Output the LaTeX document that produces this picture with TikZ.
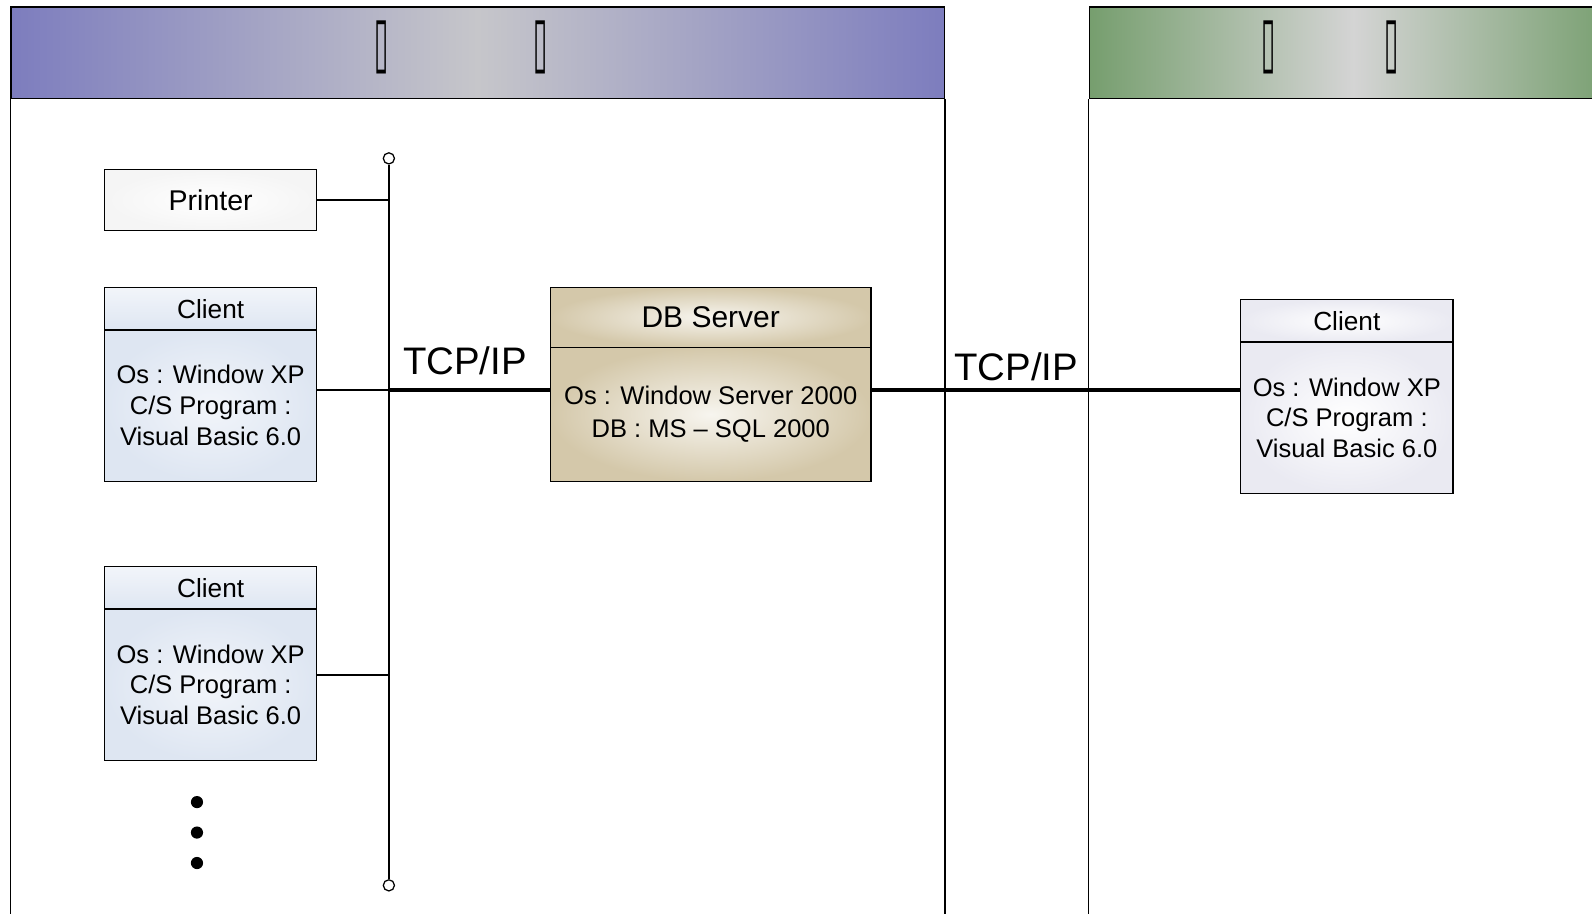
\documentclass[tikz,border=0pt]{standalone}
\usepackage{fontspec}
\setmainfont{Liberation Sans}
\newfontfamily\symfont{DejaVu Sans}
\usepackage{graphicx}
\usetikzlibrary{positioning}

\definecolor{hqedge}{RGB}{125,125,190}
\definecolor{hqmid}{RGB}{198,198,202}
\definecolor{bredge}{RGB}{118,158,110}
\definecolor{brmid}{RGB}{212,212,212}
\definecolor{cliout}{RGB}{222,230,242}
\definecolor{cliin}{RGB}{242,245,250}
\definecolor{rcout}{RGB}{234,234,242}
\definecolor{dbout}{RGB}{212,200,170}
\definecolor{dbin}{RGB}{247,245,239}

\newcommand{\tofu}{\resizebox{0.28cm}{0.88cm}{\symfont\bfseries ▯}}

\begin{document}
\begin{tikzpicture}[
    frame/.style={line width=0.8pt},
    head/.style={rectangle, draw, line width=0.8pt, inner sep=0pt, outer sep=0pt, minimum width=4.18cm, minimum height=0.84cm, font=\fontsize{14.7}{16}\selectfont},
    body/.style={rectangle, draw, line width=0.8pt, inner sep=0pt, outer sep=0pt, minimum width=4.18cm, minimum height=2.98cm, align=center, font=\fontsize{14.3}{17.3}\selectfont},
    link/.style={line width=0.8pt},
    trunk/.style={line width=2.4pt},
    tcp/.style={font=\fontsize{21.5}{24}\selectfont},
    endpt/.style={circle, draw, fill=white, line width=0.7pt, inner sep=0pt, minimum size=0.22cm}
]
\clip (0,0) rectangle (31.36,18);
\useasboundingbox (0,0) rectangle (31.36,18);

% Panels
\node[rectangle, draw, line width=0.8pt, minimum width=18.38cm, minimum height=1.8cm, left color=hqedge, right color=hqedge, middle color=hqmid] (hq) at (9.41,16.96) {};
\node[rectangle, draw, line width=0.8pt, minimum width=10.4cm, minimum height=1.8cm, left color=bredge, right color=bredge, middle color=brmid] (br) at (26.66,16.96) {};
\node (hq1) at (7.52,17.06) {\tofu};
\node (hq2) at (10.64,17.06) {\tofu};
\node (br1) at (24.98,17.06) {\tofu};
\node (br2) at (27.42,17.06) {\tofu};
\draw[frame] (hq.south west) -- ++(0,-16.2);
\draw[frame] (hq.south east) -- ++(0,-16.2);
\draw[frame] (br.south west) -- ++(0,-16.2);

% Left side
\node[rectangle, draw, line width=0.8pt, minimum width=4.18cm, minimum height=1.2cm, inner color=white, outer color=gray!8, font=\fontsize{16}{18}\selectfont] (prn) at (4.15,14.06) {Printer};

\node[head, top color=cliin, bottom color=cliout] (c1h) at (4.15,11.92) {Client};
\node[body, inner color=cliin, outer color=cliout, below=0pt of c1h] (c1) {Os : Window XP\\C/S Program :\\Visual Basic 6.0};

\node[head, top color=cliin, bottom color=cliout] (c2h) at (4.15,6.42) {Client};
\node[body, inner color=cliin, outer color=cliout, below=0pt of c2h] (c2) {Os : Window XP\\C/S Program :\\Visual Basic 6.0};

\foreach \y in {2.2,1.6,1.0}
    \fill (3.88,\y) circle (0.12);

% Bus
\node[endpt] (bustop) at (7.66,14.88) {};
\node[endpt] (busbot) at (7.66,0.56) {};
\draw[link] (bustop.south) -- (busbot.north);
\coordinate (tap1) at (7.66,10.32);
\coordinate (tap2) at (7.66,4.70);
\draw[link] (prn.east) -- (prn.east -| bustop);
\draw[link] (c1.east |- tap1) -- (tap1);
\draw[link] (c2.east |- tap2) -- (tap2);

% DB Server
\node[rectangle, draw, line width=0.8pt, inner sep=0pt, outer sep=0pt, minimum width=6.32cm, minimum height=1.18cm, inner color=dbin, outer color=dbout, font=\fontsize{16.8}{18}\selectfont] (dbh) at (14.0,11.75) {DB Server};
\node[rectangle, draw, line width=0.8pt, inner sep=0pt, outer sep=0pt, minimum width=6.32cm, minimum height=2.64cm, align=center, inner color=dbin, outer color=dbout, below=0pt of dbh, font=\fontsize{14.3}{18.2}\selectfont] (db) {Os : Window Server 2000\\DB : MS -- SQL 2000};

% Right side
\node[head, inner color=white, outer color=rcout] (rch) at (26.53,11.68) {Client};
\node[body, inner color=white, outer color=rcout, below=0pt of rch] (rc) {Os : Window XP\\C/S Program :\\Visual Basic 6.0};

% Network
\draw[trunk] (tap1) -- (tap1 -| db.west);
\draw[trunk] (db.east |- tap1) -- (rc.west |- tap1);
\node[tcp] (tcp1) at (9.16,10.9) {TCP/IP};
\node[tcp] (tcp2) at (20.02,10.78) {TCP/IP};

\end{tikzpicture}
\end{document}
